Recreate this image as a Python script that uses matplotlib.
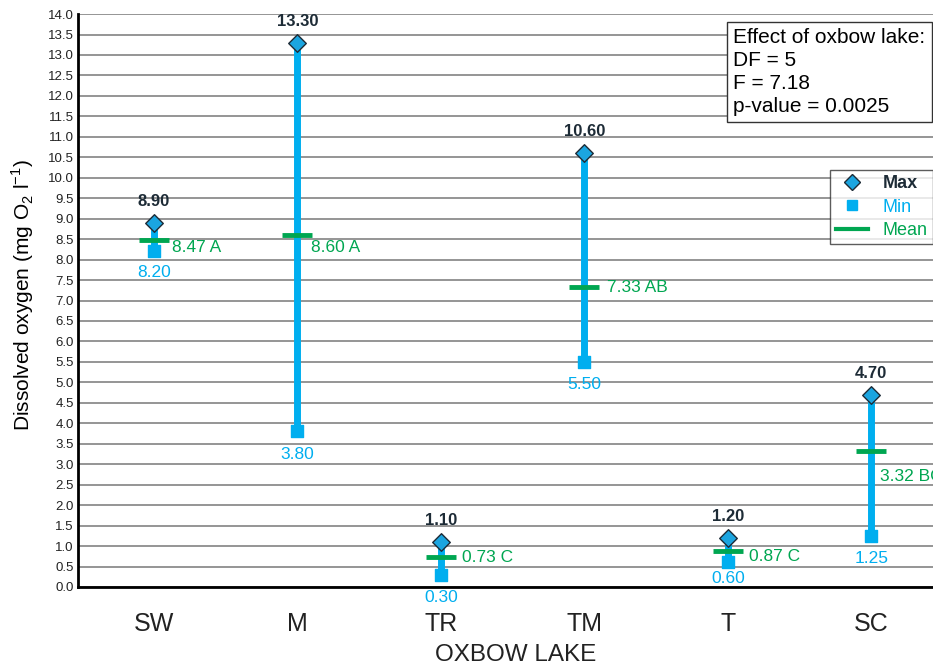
import numpy as np
import matplotlib
matplotlib.use("Agg")
import matplotlib.pyplot as plt
from matplotlib.lines import Line2D

sites = ["SW", "M", "TR", "TM", "T", "SC"]
max_vals = [8.90, 13.30, 1.10, 10.60, 1.20, 4.70]
min_vals = [8.20, 3.80, 0.30, 5.50, 0.60, 1.25]
mean_vals = [8.47, 8.60, 0.73, 7.33, 0.87, 3.32]
groups = ["A", "A", "C", "AB", "C", "BC"]

# label offsets (points)
mean_off = [(13, -5), (10, -9), (15, 0), (16, 0), (15, -4), (6.5, -18)]
min_off = [-10, -11, -11, -11, -6, -11]

blue = "#00AEEF"
green = "#00A651"
dark = "#1d2b36"

plt.rcParams["font.family"] = ["Liberation Sans", "DejaVu Sans"]

fig = plt.figure(figsize=(9.33, 6.69), dpi=100)
ax = fig.add_axes([0.0836, 0.1226, 0.9164, 0.8564])

x = np.arange(len(sites))
ax.vlines(x, min_vals, max_vals, color=blue, lw=5, zorder=3)
ax.scatter(x, min_vals, marker="s", s=80, color=blue, zorder=4)
ax.scatter(x, max_vals, marker="D", s=80, color="#1BA5E0", edgecolor="#1d2b36", lw=1, zorder=5)
ax.scatter(x, mean_vals, marker="_", s=470, color=green, lw=3.5, zorder=6)

for i in range(len(sites)):
    ax.annotate(f"{max_vals[i]:.2f}", (x[i], max_vals[i]), xytext=(0, 10), textcoords="offset points",
                ha="center", va="bottom", fontsize=12, fontweight="bold", color=dark)
    ax.annotate(f"{min_vals[i]:.2f}", (x[i], min_vals[i]), xytext=(0, min_off[i]), textcoords="offset points",
                ha="center", va="top", fontsize=12.5, color=blue, zorder=9)
    ax.annotate(f"{mean_vals[i]:.2f} {groups[i]}", (x[i], mean_vals[i]), xytext=mean_off[i],
                textcoords="offset points", ha="left", va="center", fontsize=12.5, color=green,
                annotation_clip=False)

ax.set_xlim(-0.53, 5.43)
ax.set_ylim(0, 14)
ax.set_yticks(np.arange(0, 14.01, 0.5))
ax.set_yticklabels([f"{v:.1f}" for v in np.arange(0, 14.01, 0.5)], fontsize=9.5, color="#222222")
ax.set_xticks(x)
ax.set_xticklabels(sites, fontsize=18, color="#222222")
ax.tick_params(axis="x", length=0, pad=18)
ax.tick_params(axis="y", length=0, pad=3)
ax.grid(axis="y", color="#8c8c8c", lw=1.3, zorder=0)
ax.set_axisbelow(True)
for s in ["top", "right"]:
    ax.spines[s].set_visible(False)
ax.spines["left"].set_linewidth(2)
ax.spines["bottom"].set_linewidth(2)
ax.spines["bottom"].set_zorder(7)

ax.set_ylabel("Dissolved oxygen (mg O$_\\mathregular{2}$ l$^\\mathregular{-1}$)", fontsize=15)
ax.yaxis.set_label_coords(-0.049, 0.51)
ax.set_xlabel("OXBOW LAKE", fontsize=17.5, color="#222222")
ax.xaxis.set_label_coords(0.512, -0.1)

ax.text(0.7665, 0.975, "Effect of oxbow lake:\nDF = 5\nF = 7.18\np-value = 0.0025",
        transform=ax.transAxes, ha="left", va="top", fontsize=15, linespacing=1.25,
        bbox=dict(boxstyle="square,pad=0.3", fc="white", ec="#333333", lw=1), zorder=8)

handles = [
    Line2D([], [], marker="D", ls="none", ms=8, mfc="#1BA5E0", mec="#1d2b36"),
    Line2D([], [], marker="s", ls="none", ms=7, color=blue),
    Line2D([], [], color=green, lw=3),
]
leg = ax.legend(handles, ["Max", "Min", "Mean"], loc="upper right", bbox_to_anchor=(1.0, 0.728),
                fontsize=13, frameon=True, fancybox=False, edgecolor="#333333",
                handlelength=1.8, borderpad=0.3, labelspacing=0.35, borderaxespad=0)
leg.get_frame().set_linewidth(1)
leg.get_texts()[0].set_color(dark)
leg.get_texts()[0].set_fontweight("bold")
leg.get_texts()[1].set_color(blue)
leg.get_texts()[2].set_color(green)
leg.set_zorder(8)

fig.savefig("out.png", dpi=100)
